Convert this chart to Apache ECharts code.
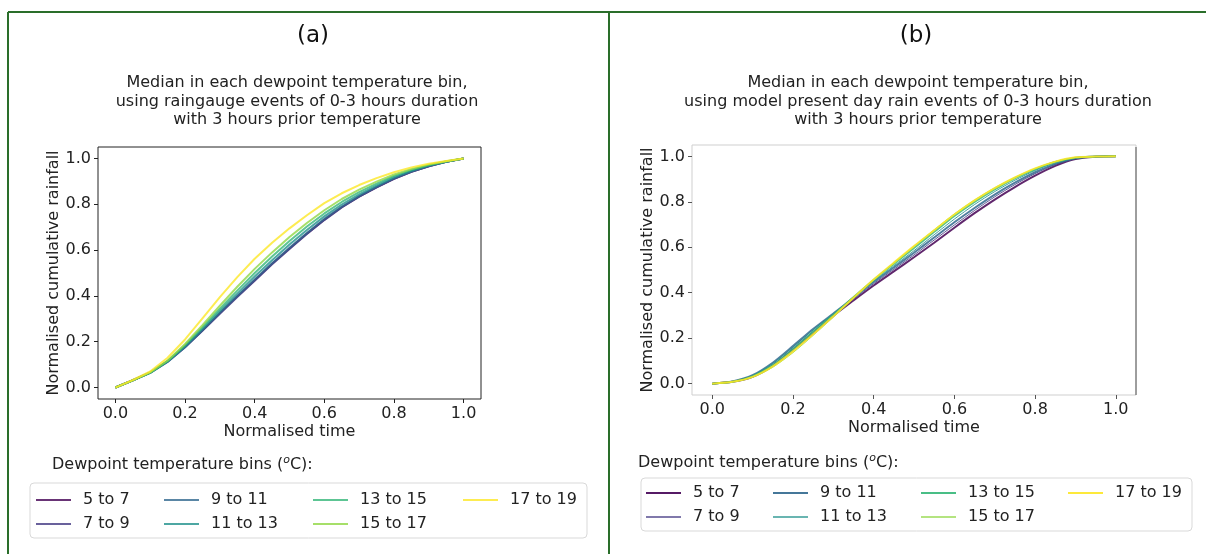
<!DOCTYPE html>
<html>
<head>
<meta charset="utf-8">
<script src="https://cdn.jsdelivr.net/npm/echarts@6/dist/echarts.min.js"></script>
<style>
html,body{margin:0;padding:0;background:#fff;}
#chart{width:1206px;height:554px;}
</style>
</head>
<body>
<div id="chart"></div>
<script>
// ---------- data ----------
const binNames = ['5 to 7','7 to 9','9 to 11','11 to 13','13 to 15','15 to 17','17 to 19'];
const binColors = ['#440154','#443983','#31688e','#21918c','#35b779','#90d743','#fde725'];
const normTime = [0,0.05,0.1,0.15,0.2,0.25,0.3,0.35,0.4,0.45,0.5,0.55,0.6,0.65,0.7,0.75,0.8,0.85,0.9,0.95,1];
const tickValues = [0,0.2,0.4,0.6,0.8,1.0];

// (a) raingauge events
const gauge_5_7   = [0,0.032,0.066,0.115,0.178,0.250,0.325,0.398,0.468,0.540,0.607,0.672,0.733,0.787,0.833,0.874,0.911,0.942,0.966,0.985,1];
const gauge_7_9   = [0,0.032,0.065,0.113,0.176,0.248,0.322,0.395,0.466,0.538,0.605,0.670,0.731,0.786,0.833,0.874,0.911,0.942,0.966,0.985,1];
const gauge_9_11  = [0,0.031,0.064,0.112,0.176,0.250,0.326,0.400,0.472,0.543,0.610,0.675,0.736,0.790,0.836,0.876,0.913,0.943,0.967,0.985,1];
const gauge_11_13 = [0,0.031,0.064,0.114,0.180,0.256,0.334,0.410,0.485,0.556,0.624,0.688,0.747,0.799,0.843,0.882,0.918,0.946,0.969,0.986,1];
const gauge_13_15 = [0,0.031,0.065,0.116,0.185,0.263,0.344,0.423,0.500,0.572,0.640,0.703,0.760,0.810,0.853,0.890,0.924,0.950,0.971,0.987,1];
const gauge_15_17 = [0,0.031,0.066,0.118,0.190,0.272,0.357,0.440,0.518,0.590,0.657,0.718,0.774,0.823,0.864,0.899,0.930,0.954,0.973,0.988,1];
const gauge_17_19 = [0,0.033,0.070,0.130,0.210,0.302,0.395,0.482,0.562,0.632,0.695,0.752,0.805,0.848,0.884,0.914,0.940,0.961,0.977,0.989,1];

// (b) model present day events
const model_5_7   = [0,0.008,0.030,0.078,0.148,0.222,0.298,0.366,0.432,0.494,0.556,0.620,0.686,0.750,0.810,0.865,0.915,0.958,0.988,0.998,1];
const model_7_9   = [0,0.009,0.033,0.083,0.155,0.230,0.302,0.372,0.440,0.503,0.566,0.632,0.698,0.762,0.822,0.876,0.924,0.964,0.990,0.999,1];
const model_9_11  = [0,0.010,0.037,0.092,0.165,0.240,0.308,0.378,0.447,0.511,0.576,0.643,0.710,0.773,0.832,0.884,0.930,0.967,0.992,0.999,1];
const model_11_13 = [0,0.009,0.035,0.088,0.160,0.236,0.307,0.380,0.451,0.518,0.585,0.655,0.724,0.788,0.845,0.895,0.938,0.972,0.993,0.999,1];
const model_13_15 = [0,0.008,0.032,0.080,0.150,0.227,0.302,0.380,0.456,0.527,0.597,0.668,0.738,0.800,0.855,0.903,0.943,0.975,0.994,0.999,1];
const model_15_17 = [0,0.007,0.028,0.072,0.136,0.212,0.292,0.375,0.457,0.532,0.605,0.677,0.747,0.808,0.862,0.908,0.947,0.977,0.995,0.999,1];
const model_17_19 = [0,0.008,0.030,0.076,0.142,0.217,0.296,0.378,0.458,0.532,0.605,0.675,0.744,0.806,0.860,0.907,0.947,0.977,0.996,0.999,1];

const gaugeSeries = [gauge_5_7,gauge_7_9,gauge_9_11,gauge_11_13,gauge_13_15,gauge_15_17,gauge_17_19];
const modelSeries = [model_5_7,model_7_9,model_9_11,model_11_13,model_13_15,model_15_17,model_17_19];
const modelWidths = [2,1,2,1,2,1,2];

// ---------- chart ----------
const FONT = 'DejaVu Sans';
const GREEN = '#2a6e2a';
const chart = echarts.init(document.getElementById('chart'), null, {renderer:'canvas'});

function xAxisFor(gi, tickColor){
  return {
    type:'value', gridIndex:gi, min:-0.05, max:1.05,
    name:'Normalised time', nameLocation:'middle', nameGap:25,
    nameTextStyle:{fontFamily:FONT, fontSize:16, color:'#222'},
    axisLine:{show:false, onZero:false},
    splitLine:{show:false},
    axisTick:{show:true, length:4, inside:false, customValues:tickValues, lineStyle:{color:tickColor}},
    axisLabel:{customValues:tickValues, margin:7, fontFamily:FONT, fontSize:16, color:'#222',
      formatter:v=>v.toFixed(1)}
  };
}
function yAxisFor(gi, tickColor){
  return {
    type:'value', gridIndex:gi, min:-0.05, max:1.05,
    name:'Normalised cumulative rainfall', nameLocation:'middle', nameGap:36, nameRotate:90,
    nameTextStyle:{fontFamily:FONT, fontSize:16, color:'#222'},
    axisLine:{show:false, onZero:false},
    splitLine:{show:false},
    axisTick:{show:true, length:4, inside:false, customValues:tickValues, lineStyle:{color:tickColor}},
    axisLabel:{customValues:tickValues, margin:7, fontFamily:FONT, fontSize:16, color:'#222',
      formatter:v=>v.toFixed(1)}
  };
}

const series = [];
gaugeSeries.forEach((arr,i)=>{
  series.push({
    type:'line', name:binNames[i], xAxisIndex:0, yAxisIndex:0,
    data:normTime.map((t,j)=>[t,arr[j]]),
    symbol:'none', showSymbol:false, smooth:false,
    lineStyle:{width:2, color:binColors[i], opacity:0.8},
    itemStyle:{color:binColors[i]},
    z: 2+i
  });
});
modelSeries.forEach((arr,i)=>{
  series.push({
    type:'line', name:binNames[i], xAxisIndex:1, yAxisIndex:1,
    data:normTime.map((t,j)=>[t,arr[j]]),
    symbol:'none', showSymbol:false, smooth:0.25,
    lineStyle:{width:modelWidths[i], color:binColors[i], opacity:0.85},
    itemStyle:{color:binColors[i]},
    z: 2+i
  });
});

const ICON_THICK = 'path://M0,0 L35,0 L35,2 L0,2 Z';
const ICON_THIN = 'path://M0,0 L35,0 L35,1.4 L0,1.4 Z';
const legendText = {fontFamily:FONT, fontSize:16, color:'#222', lineHeight:20, padding:[0,0,0,7]};
const columns = [[0,1],[2,3],[4,5],[6]];
const legendsA = columns.map((col,ci)=>({
  left:[36,164,313,463][ci], top:490, orient:'vertical', padding:0,
  itemWidth:35, itemHeight:14, itemGap:4, selectedMode:false, symbolKeepAspect:true,
  textStyle:legendText,
  data:col.map(i=>({name:binNames[i], icon:ICON_THICK, itemStyle:{color:binColors[i], opacity:0.8, borderWidth:0}}))
}));
const legendsB = columns.map((col,ci)=>({
  left:[646,773,921,1068][ci], top:483, orient:'vertical', padding:0,
  itemWidth:35, itemHeight:14, itemGap:4, selectedMode:false, symbolKeepAspect:true,
  textStyle:legendText,
  data:col.map(i=>({name:binNames[i], icon:modelWidths[i]>1?ICON_THICK:ICON_THIN, itemStyle:{color:binColors[i], opacity:0.9, borderWidth:0}}))
}));

const legTitleRich = {
  n:{fontFamily:FONT, fontSize:16, fontWeight:'normal', color:'#222', lineHeight:20},
  s:{fontFamily:FONT, fontSize:11, fontWeight:'normal', fontStyle:'italic', color:'#222', lineHeight:20, verticalAlign:'top', padding:[0,0,6,0]}
};

const option = {
  backgroundColor:'#ffffff',
  animation:false,
  title:[
    {text:'(a)', left:308, top:20, textAlign:'center',
     textStyle:{fontFamily:FONT, fontSize:23, fontWeight:'normal', color:'#111'}},
    {text:'(b)', left:911, top:20, textAlign:'center',
     textStyle:{fontFamily:FONT, fontSize:23, fontWeight:'normal', color:'#111'}},
    {text:'Median in each dewpoint temperature bin,\nusing raingauge events of 0-3 hours duration\nwith 3 hours prior temperature',
     left:292, top:69, textAlign:'center',
     textStyle:{fontFamily:FONT, fontSize:16, fontWeight:'normal', color:'#222', lineHeight:18.5, align:'center'}},
    {text:'Median in each dewpoint temperature bin,\nusing model present day rain events of 0-3 hours duration\nwith 3 hours prior temperature',
     left:913, top:69, textAlign:'center',
     textStyle:{fontFamily:FONT, fontSize:16, fontWeight:'normal', color:'#222', lineHeight:18.5, align:'center'}},
    {text:'{n|Dewpoint temperature bins (}{s|o}{n|C):}', left:47, top:450,
     textStyle:{fontWeight:'normal', rich:legTitleRich}},
    {text:'{n|Dewpoint temperature bins (}{s|o}{n|C):}', left:633, top:448,
     textStyle:{fontWeight:'normal', rich:legTitleRich}}
  ],
  grid:[
    {left:98, top:147, width:383, height:252, show:true, borderColor:'#222', borderWidth:1, backgroundColor:'transparent'},
    {left:692, top:145, width:444, height:250, show:true, borderColor:'#cfcfcf', borderWidth:1, backgroundColor:'transparent'}
  ],
  xAxis:[xAxisFor(0,'#222'), xAxisFor(1,'#555')],
  yAxis:[yAxisFor(0,'#222'), yAxisFor(1,'#555')],
  legend:[...legendsA, ...legendsB],
  graphic:[
    {type:'rect', shape:{x:30, y:483, width:557, height:55, r:4}, style:{fill:'#fff', stroke:'#d9d9d9', lineWidth:1}, z:-1, silent:true},
    {type:'rect', shape:{x:641, y:478, width:551, height:53, r:4}, style:{fill:'#fff', stroke:'#d9d9d9', lineWidth:1}, z:-1, silent:true},
    {type:'line', shape:{x1:1136, y1:147, x2:1136, y2:395}, style:{stroke:'#555', lineWidth:1}, silent:true},
    {type:'line', shape:{x1:8, y1:12, x2:1206, y2:12}, style:{stroke:GREEN, lineWidth:2}, silent:true},
    {type:'line', shape:{x1:8, y1:12, x2:8, y2:554}, style:{stroke:GREEN, lineWidth:2}, silent:true},
    {type:'line', shape:{x1:609, y1:12, x2:609, y2:554}, style:{stroke:GREEN, lineWidth:2}, silent:true}
  ],
  series
};
chart.setOption(option);
</script>
</body>
</html>
